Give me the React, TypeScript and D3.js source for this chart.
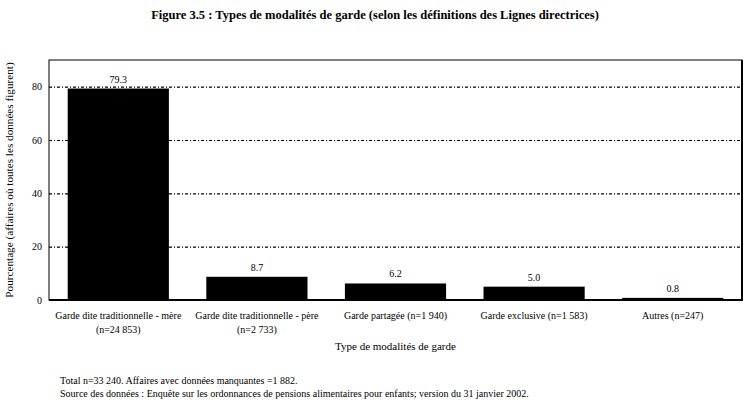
import { useEffect, useRef } from "react";
import * as d3 from "d3";

const categories = [
  ["Garde dite traditionnelle - mère", "(n=24 853)"],
  ["Garde dite traditionnelle - père", "(n=2 733)"],
  ["Garde partagée (n=1 940)"],
  ["Garde exclusive (n=1 583)"],
  ["Autres (n=247)"],
];
const values = [79.3, 8.7, 6.2, 5.0, 0.8];
const yTicks = [0, 20, 40, 60, 80];
const gridTicks = [20, 40, 60, 80];

const W = 750;
const H = 404;
const margin = { top: 60, right: 8, bottom: 104, left: 49 };
const FONT = "'Liberation Serif', 'DejaVu Serif', serif";

const App = () => {
  const gridRef = useRef<SVGGElement>(null);
  const yAxisRef = useRef<SVGGElement>(null);

  const innerW = W - margin.left - margin.right;
  const innerH = H - margin.top - margin.bottom;

  const x = d3
    .scaleBand<number>()
    .domain(d3.range(values.length))
    .range([0, innerW])
    .paddingInner(0.27)
    .paddingOuter(0.135);

  const y = d3.scaleLinear().domain([0, 90]).range([innerH, 0]);

  useEffect(() => {
    if (!gridRef.current || !yAxisRef.current) return;

    const grid = d3
      .select(gridRef.current)
      .call(
        d3
          .axisLeft(y)
          .tickValues(gridTicks)
          .tickSize(-innerW)
          .tickFormat(() => ""),
      );
    grid.select(".domain").remove();
    grid
      .selectAll(".tick line")
      .attr("stroke", "#000")
      .attr("stroke-width", 1.2)
      .attr("stroke-dasharray", "3,2,1,2");

    const yAxis = d3
      .select(yAxisRef.current)
      .call(d3.axisLeft(y).tickValues(yTicks).tickSize(0).tickPadding(7));
    yAxis.select(".domain").remove();
    yAxis
      .selectAll("text")
      .attr("font-family", FONT)
      .attr("font-size", 10)
      .attr("fill", "#000");
  }, []);

  return (
    <svg
      width={W}
      height={H}
      style={{ position: "absolute", left: 0, top: 0, background: "#fff" }}
      fontFamily={FONT}
    >
      <text
        x={375}
        y={19}
        textAnchor="middle"
        fontWeight="bold"
        fontSize={12.5}
      >
        Figure 3.5 : Types de modalités de garde (selon les définitions des
        Lignes directrices)
      </text>

      <g transform={`translate(${margin.left},${margin.top})`}>
        <g ref={gridRef} />

        {values.map((v, i) => (
          <g key={i}>
            <rect
              x={x(i)}
              y={y(v)}
              width={x.bandwidth()}
              height={innerH - y(v)}
              fill="#000"
            />
            <text
              x={(x(i) ?? 0) + x.bandwidth() / 2}
              y={y(v) - 6}
              textAnchor="middle"
              fontSize={10}
            >
              {v.toFixed(1)}
            </text>
          </g>
        ))}

        <rect
          x={0}
          y={0}
          width={innerW}
          height={innerH}
          fill="none"
          stroke="#000"
          strokeWidth={1}
        />
        <line x1={innerW} x2={innerW} y1={0} y2={innerH + 1} stroke="#000" strokeWidth={2} />
        <line x1={0} x2={innerW + 1} y1={innerH} y2={innerH} stroke="#000" strokeWidth={2} />

        <g ref={yAxisRef} />

        {categories.map((lines, i) => (
          <text
            key={i}
            x={(x(i) ?? 0) + x.bandwidth() / 2}
            y={innerH + 19}
            textAnchor="middle"
            fontSize={10}
          >
            {lines.map((l, j) => (
              <tspan key={j} x={(x(i) ?? 0) + x.bandwidth() / 2} dy={j === 0 ? 0 : 14}>
                {l}
              </tspan>
            ))}
          </text>
        ))}

        <text
          x={innerW / 2}
          y={innerH + 50}
          textAnchor="middle"
          fontSize={11}
        >
          Type de modalités de garde
        </text>

        <text
          transform={`translate(${-36},${innerH / 2}) rotate(-90)`}
          textAnchor="middle"
          fontSize={11.2}
        >
          Pourcentage (affaires où toutes les données figurent)
        </text>
      </g>

      <text x={60} y={384} fontSize={10}>
        Total n=33 240.  Affaires avec données manquantes =1 882.
      </text>
      <text x={60} y={397} fontSize={10}>
        Source des données : Enquête sur les ordonnances de pensions
        alimentaires pour enfants; version du 31 janvier 2002.
      </text>
    </svg>
  );
};

export default App;
